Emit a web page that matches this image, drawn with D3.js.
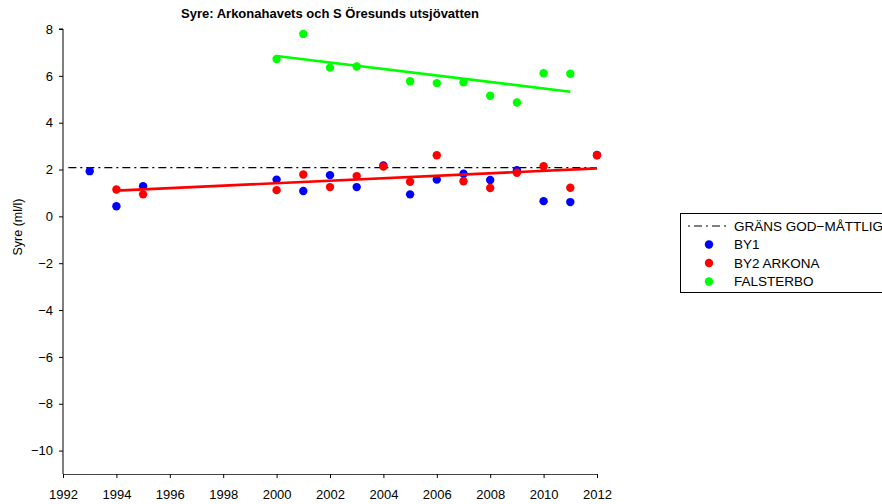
<!DOCTYPE html>
<html>
<head>
<meta charset="utf-8">
<script src="https://cdn.jsdelivr.net/npm/d3@7"></script>
<style>
  body { margin: 0; background: #fff; }
  svg { font-family: "Liberation Sans", Arial, sans-serif; }
</style>
</head>
<body>
<svg id="chart"></svg>
<script>
// values
const by1Years = [1993, 1994, 1995, 2000, 2001, 2002, 2003, 2004, 2005, 2006, 2007, 2008, 2009, 2010, 2011, 2012];
const by1Values = [1.93, 0.43, 1.29, 1.57, 1.08, 1.76, 1.25, 2.17, 0.94, 1.57, 1.82, 1.55, 1.97, 0.65, 0.61, 2.62];

const by2Years = [1994, 1995, 2000, 2001, 2002, 2003, 2004, 2005, 2006, 2007, 2008, 2009, 2010, 2011, 2012];
const by2Values = [1.15, 0.94, 1.12, 1.79, 1.25, 1.72, 2.13, 1.48, 2.61, 1.50, 1.21, 1.86, 2.14, 1.22, 2.61];

const falsYears = [2000, 2001, 2002, 2003, 2005, 2006, 2007, 2008, 2009, 2010, 2011];
const falsValues = [6.72, 7.79, 6.35, 6.40, 5.77, 5.69, 5.72, 5.15, 4.86, 6.11, 6.09];

// trend lines (end points)
const by2Trend = [[1994, 1.10], [2012, 2.05]];
const falsTrend = [[2000, 6.85], [2011, 5.32]];
const threshold = [[1992.2, 2.08], [2012, 2.08]];

const xTicks = d3.range(1992, 2013, 2);
const yTicks = d3.range(-10, 9, 2);
const legendLabels = ["GRÄNS GOD\u2212MÅTTLIG", "BY1", "BY2 ARKONA", "FALSTERBO"];

const W = 882, H = 504;
const margin = { top: 29, right: 285, bottom: 30, left: 63 },
    width = W - margin.left - margin.right,
    height = H - margin.top - margin.bottom;

const svg = d3.select("#chart")
    .attr("width", W)
    .attr("height", H);

const g = svg.append("g")
    .attr("transform", `translate(${margin.left},${margin.top})`);

const x = d3.scaleLinear().domain([1992, 2012]).range([0, width]);
const y = d3.scaleLinear().domain([-11, 8]).range([height, 0]);

const fmt = d => d < 0 ? "\u2212" + Math.abs(d) : String(d);

// axes
const xAxis = g.append("g")
    .attr("transform", `translate(0,${height})`)
    .call(d3.axisBottom(x).tickValues(xTicks).tickFormat(d3.format("d")).tickSize(4).tickSizeOuter(0).tickPadding(12));

const yAxis = g.append("g")
    .call(d3.axisLeft(y).tickValues(yTicks).tickFormat(fmt).tickSize(4).tickSizeOuter(0).tickPadding(6));

// extend y axis line to the top tick (8)
yAxis.select(".domain").attr("d", `M-4,${y(8)}H0V${y(-11)}`);

[xAxis, yAxis].forEach(a => {
  a.selectAll("text").style("font-size", "13px").attr("fill", "#000");
  a.selectAll("line, path").attr("stroke", "#000");
});
xAxis.select(".domain").attr("stroke", "#444");

// titles
svg.append("text")
    .attr("x", margin.left + width / 2)
    .attr("y", 18)
    .attr("text-anchor", "middle")
    .style("font-size", "13px")
    .style("font-weight", "bold")
    .text("Syre: Arkonahavets och S Öresunds utsjövatten");

svg.append("text")
    .attr("transform", `translate(22,227) rotate(-90)`)
    .attr("text-anchor", "middle")
    .style("font-size", "12.5px")
    .text("Syre (ml/l)");

const line = d3.line().x(d => x(d[0])).y(d => y(d[1]));

// threshold
g.append("path")
    .datum(threshold)
    .attr("d", line)
    .attr("fill", "none")
    .attr("stroke", "#000")
    .attr("stroke-width", 1.2)
    .attr("stroke-dasharray", "8,4,2,4");

// points
function dots(years, values, color) {
  g.append("g")
    .selectAll("circle")
    .data(years.map((yr, i) => [yr, values[i]]))
    .enter().append("circle")
    .attr("cx", d => x(d[0]))
    .attr("cy", d => y(d[1]))
    .attr("r", 4.2)
    .attr("fill", color);
}
dots(by1Years, by1Values, "#0000ff");
dots(by2Years, by2Values, "#ff0000");
dots(falsYears, falsValues, "#00ff00");

// trends
g.append("path").datum(by2Trend).attr("d", line)
    .attr("fill", "none").attr("stroke", "#ff0000").attr("stroke-width", 2.6);
g.append("path").datum(falsTrend).attr("d", line)
    .attr("fill", "none").attr("stroke", "#00ff00").attr("stroke-width", 2.6);

// legend
const legend = svg.append("g").attr("transform", "translate(680,213)");
legend.append("rect")
    .attr("x", 0.5).attr("y", 0.5)
    .attr("width", 220).attr("height", 79)
    .attr("fill", "#fff").attr("stroke", "#000");

const rowY = [13, 31.5, 50, 68.5];
const colors = [null, "#0000ff", "#ff0000", "#00ff00"];
legendLabels.forEach((lab, i) => {
  if (i === 0) {
    legend.append("line")
      .attr("x1", 8).attr("x2", 47)
      .attr("y1", rowY[i]).attr("y2", rowY[i])
      .attr("stroke", "#000").attr("stroke-width", 1.2)
      .attr("stroke-dasharray", "2,4,8,4");
  } else {
    legend.append("circle")
      .attr("cx", 29).attr("cy", rowY[i]).attr("r", 4.2)
      .attr("fill", colors[i]);
  }
  legend.append("text")
    .attr("x", 54)
    .attr("y", rowY[i])
    .attr("dy", "0.36em")
    .style("font-size", "13.5px")
    .text(lab);
});
</script>
</body>
</html>
